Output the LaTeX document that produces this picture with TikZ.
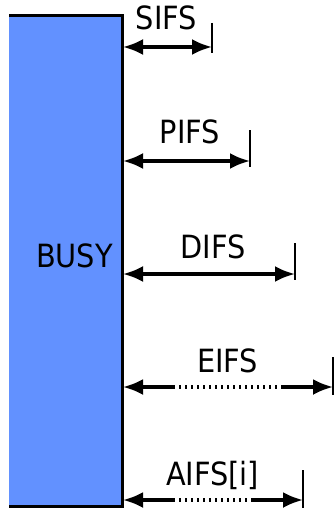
\documentclass[tikz,border=0pt]{standalone}
\usepackage{fontspec}
\setmainfont{DejaVu Sans Condensed}
\usetikzlibrary{positioning, arrows.meta, calc}
\definecolor{busyblue}{RGB}{98,145,255}
\tikzset{
    ifs/.style={line width=1.6pt, {Latex[length=10pt,width=8pt]}-{Latex[length=10pt,width=8pt]}},
    ifsleft/.style={line width=1.6pt, {Latex[length=10pt,width=8pt]}-},
    ifsright/.style={line width=1.6pt, -{Latex[length=10pt,width=8pt]}},
    gap/.style={line width=1.6pt, dash pattern=on 1.2pt off 1.8pt},
    tick/.style={line width=1.2pt},
    lbl/.style={font=\fontsize{16}{19}\selectfont, inner sep=0pt, anchor=base},
}

\begin{document}
\begin{tikzpicture}[x=0.5pt, y=-0.5pt]
    \useasboundingbox (0,0) rectangle (336,508);

    % busy medium
    \fill[busyblue] (9,16) rectangle (122,506);
    \draw[line width=1.5pt] (9,16) -- (122,16) -- (122,506) -- (9,506);
    \node[lbl] (busy) at (74.5,267) {BUSY};

    % SIFS
    \coordinate (s0) at (123,47);
    \coordinate (s1) at (212,47);
    \draw[tick] (212,23) -- (212,53);
    \draw[ifs] (s0) -- (s1);
    \node[lbl] (sifs) at (166.5,30) {SIFS};

    % PIFS
    \coordinate (p0) at (123,161);
    \coordinate (p1) at (250,161);
    \draw[tick] (250,130) -- (250,167);
    \draw[ifs] (p0) -- (p1);
    \node[lbl] (pifs) at (190,143) {PIFS};

    % DIFS
    \coordinate (d0) at (123,274);
    \coordinate (d1) at (295,274);
    \draw[tick] (295,243) -- (295,280);
    \draw[ifs] (d0) -- (d1);
    \node[lbl] (difs) at (213,258) {DIFS};

    % EIFS
    \coordinate (e0) at (123,387);
    \coordinate (ea) at (173,387);
    \coordinate (eb) at (281,387);
    \coordinate (e1) at (333,387);
    \draw[tick] (333,357) -- (333,395);
    \draw[ifsleft] (e0) -- (ea);
    \draw[gap] (ea) -- (eb);
    \draw[ifsright] (eb) -- (e1);
    \node[lbl] (eifs) at (227.5,372) {EIFS};

    % AIFS[i]
    \coordinate (a0) at (123,500);
    \coordinate (aa) at (173,500);
    \coordinate (ab) at (251,500);
    \coordinate (a1) at (303,500);
    \draw[tick] (303,470) -- (303,508);
    \draw[ifsleft] (a0) -- (aa);
    \draw[gap] (aa) -- (ab);
    \draw[ifsright] (ab) -- (a1);
    \node[lbl] (aifs) at (212.5,485) {AIFS[i]};
\end{tikzpicture}
\end{document}
